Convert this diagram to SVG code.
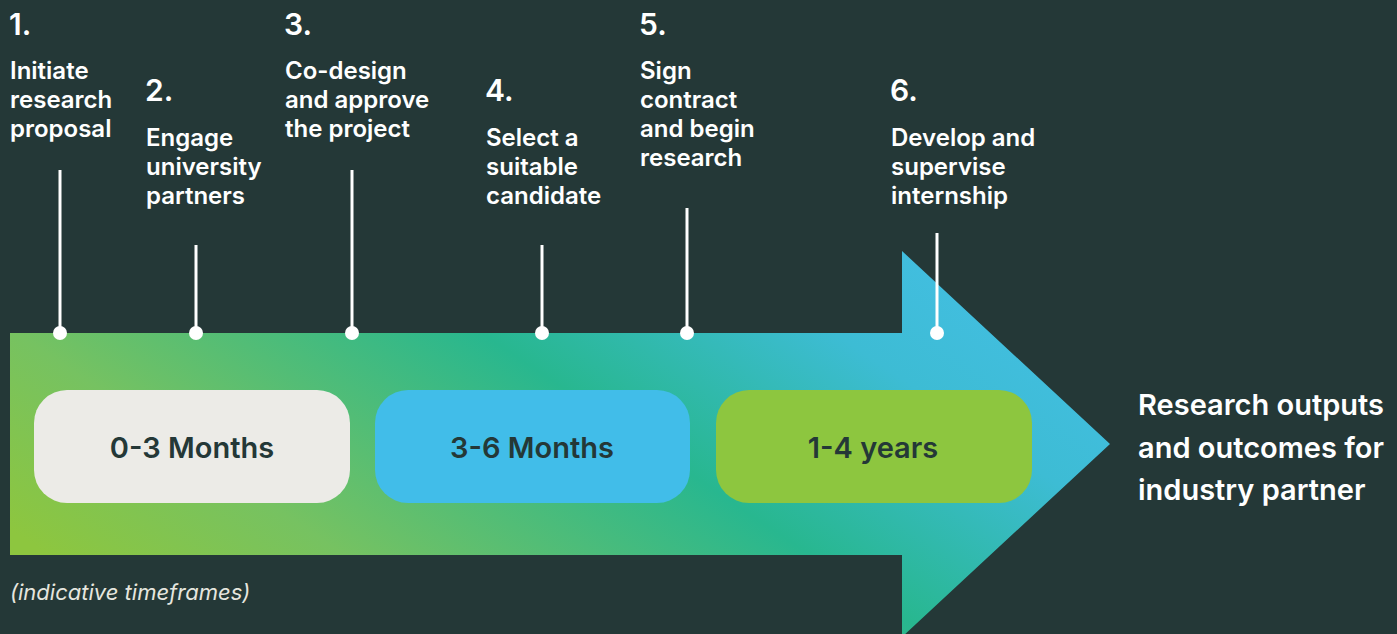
<svg xmlns="http://www.w3.org/2000/svg" width="1397" height="634" viewBox="0 0 1397 634">
<defs>
<linearGradient id="ag" gradientUnits="userSpaceOnUse" x1="-269" y1="398" x2="174" y2="-257">
<stop offset="0" stop-color="#8DC63F"/>
<stop offset="0.06" stop-color="#8DC63F"/>
<stop offset="0.27" stop-color="#76C261"/>
<stop offset="0.6" stop-color="#28B78F"/>
<stop offset="0.85" stop-color="#3DBCD4"/>
<stop offset="1" stop-color="#42BEE0"/>
</linearGradient>
<style>
.num{font-family:Inter,"Liberation Sans",sans-serif;font-weight:600;font-size:30px;fill:#FFFFFF}
.lbl{font-family:Inter,"Liberation Sans",sans-serif;font-weight:600;font-size:24px;fill:#FFFFFF}
.box{font-family:Inter,"Liberation Sans",sans-serif;font-weight:600;font-size:29px;fill:#243837}
.out{font-family:Inter,"Liberation Sans",sans-serif;font-weight:600;font-size:29px;fill:#FFFFFF}
.note{font-family:Inter,"Liberation Sans",sans-serif;font-style:italic;font-size:22px;fill:#E6E6DF}
.stem{stroke:#FFFFFF;stroke-width:3}
.dot{fill:#FFFFFF}
</style>
</defs>
<rect width="1397" height="634" fill="#243837"/>
<g id="arrow">
<path d="M10 333 H902 V251 L1110 444 L902 637 V555 H10 Z" fill="url(#ag)"/>
</g>
<g id="connectors">
<line class="stem" x1="60" y1="170" x2="60" y2="333"/>
<circle class="dot" cx="60" cy="333" r="7"/>
<line class="stem" x1="196" y1="245" x2="196" y2="333"/>
<circle class="dot" cx="196" cy="333" r="7"/>
<line class="stem" x1="352" y1="170" x2="352" y2="333"/>
<circle class="dot" cx="352" cy="333" r="7"/>
<line class="stem" x1="542" y1="245" x2="542" y2="333"/>
<circle class="dot" cx="542" cy="333" r="7"/>
<line class="stem" x1="687" y1="208" x2="687" y2="333"/>
<circle class="dot" cx="687" cy="333" r="7"/>
<line class="stem" x1="937" y1="233" x2="937" y2="333"/>
<circle class="dot" cx="937" cy="333" r="7"/>
</g>
<g id="step1">
<text class="num" x="9" y="35">1.</text>
<text class="lbl" x="10" y="79">Initiate</text>
<text class="lbl" x="10" y="108">research</text>
<text class="lbl" x="10" y="137">proposal</text>
</g>
<g id="step2">
<text class="num" x="145" y="101">2.</text>
<text class="lbl" x="146" y="146">Engage</text>
<text class="lbl" x="146" y="175">university</text>
<text class="lbl" x="146" y="204">partners</text>
</g>
<g id="step3">
<text class="num" x="284" y="35">3.</text>
<text class="lbl" x="285" y="79">Co-design</text>
<text class="lbl" x="285" y="108">and approve</text>
<text class="lbl" x="285" y="137">the project</text>
</g>
<g id="step4">
<text class="num" x="485" y="101">4.</text>
<text class="lbl" x="486" y="146">Select a</text>
<text class="lbl" x="486" y="175">suitable</text>
<text class="lbl" x="486" y="204">candidate</text>
</g>
<g id="step5">
<text class="num" x="639" y="35">5.</text>
<text class="lbl" x="640" y="79">Sign</text>
<text class="lbl" x="640" y="108">contract</text>
<text class="lbl" x="640" y="137">and begin</text>
<text class="lbl" x="640" y="166">research</text>
</g>
<g id="step6">
<text class="num" x="890" y="101">6.</text>
<text class="lbl" x="891" y="146">Develop and</text>
<text class="lbl" x="891" y="175">supervise</text>
<text class="lbl" x="891" y="204">internship</text>
</g>
<g id="box1">
<rect x="34" y="390" width="316" height="113" rx="33" fill="#ECEBE7"/>
<text class="box" x="192" y="458" text-anchor="middle">0-3 Months</text>
</g>
<g id="box2">
<rect x="375" y="390" width="315" height="113" rx="33" fill="#41BDE9"/>
<text class="box" x="532" y="458" text-anchor="middle">3-6 Months</text>
</g>
<g id="box3">
<rect x="716" y="390" width="316" height="113" rx="33" fill="#8DC63F"/>
<text class="box" x="873" y="458" text-anchor="middle">1-4 years</text>
</g>
<g id="outcome">
<text class="out" x="1138" y="415">Research outputs</text>
<text class="out" x="1138" y="458">and outcomes for</text>
<text class="out" x="1138" y="500">industry partner</text>
</g>
<g id="note">
<text class="note" x="10" y="600">(indicative timeframes)</text>
</g>
</svg>
